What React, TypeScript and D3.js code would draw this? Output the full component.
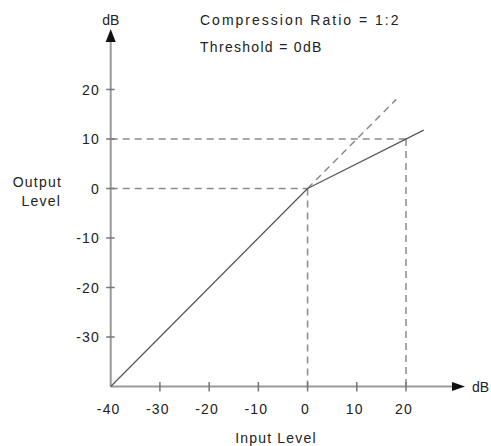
import React from "react";
import * as d3 from "d3";

const xTicks = [-40, -30, -20, -10, 0, 10, 20];
const yTicks = [20, 10, 0, -10, -20, -30];
const linearSegment = [[-40, -40], [0, 0]];
const compressedSegment = [[0, 0], [23.6, 11.8]];
const uncompressedDash = [[0, 0], [18, 18]];
const thresholdGuides = [
  [[-40, 0], [0, 0]],
  [[0, 0], [0, -40]],
  [[-40, 10], [20, 10]],
  [[20, 10], [20, -40]],
];
const titleLines = ["Compression Ratio = 1:2", "Threshold = 0dB"];

export default function App() {
  const W = 491, H = 446;
  const x = d3.scaleLinear().domain([-40, 20]).range([110.7, 406]);
  const y = d3.scaleLinear().domain([-40, 20]).range([386.5, 89.5]);
  const line = d3.line<number[]>().x(d => x(d[0])).y(d => y(d[1]));
  const font = "'Liberation Sans', Arial, sans-serif";
  const axisColor = "#999";
  const x0 = x(-40), y0 = y(-40);
  const fs = 14;
  const ls = 1.2;
  return (
    <svg width={W} height={H} style={{ position: "absolute", left: 0, top: 0, background: "#fff" }}
      fontFamily={font}>
      <rect width={W} height={H} fill="#fff" />
      {/* guides */}
      {thresholdGuides.map((g, i) => (
        <path key={i} d={line(g) || ""} stroke="#8a8a8a" strokeWidth={1.5} strokeDasharray="7,5" fill="none" />
      ))}
      <path d={line(uncompressedDash) || ""} stroke="#8a8a8a" strokeWidth={1.5} strokeDasharray="7,5" fill="none" />
      {/* axes */}
      <line x1={x0} y1={y0} x2={x0} y2={40} stroke={axisColor} strokeWidth={2} />
      <path d={`M${x0},29 L${x0 - 5},42 L${x0 + 5},42 Z`} fill="#111" />
      <line x1={x0} y1={y0} x2={455} y2={y0} stroke={axisColor} strokeWidth={2} />
      <path d={`M465,${y0} L452,${y0 - 4.5} L452,${y0 + 4.5} Z`} fill="#111" />
      {xTicks.map(t => (
        <g key={"x" + t}>
          {t !== -40 && <line x1={x(t)} x2={x(t)} y1={y0 - 4.5} y2={y0 + 5} stroke="#777" strokeWidth={1.5} />}
          <text x={x(t) - 2} y={y0 + 27} textAnchor="middle" fontSize={fs} letterSpacing={ls} fill="#222">{t}</text>
        </g>
      ))}
      {yTicks.map(t => (
        <g key={"y" + t}>
          <line x1={x0 - 4.5} x2={x0 + 4} y1={y(t)} y2={y(t)} stroke="#777" strokeWidth={1.5} />
          <text x={100} y={y(t) + 5} textAnchor="end" fontSize={fs} letterSpacing={ls} fill="#222">{t}</text>
        </g>
      ))}
      {/* transfer curve */}
      <path d={line(linearSegment) || ""} stroke="#555" strokeWidth={1.2} fill="none" />
      <path d={line(compressedSegment) || ""} stroke="#555" strokeWidth={1.2} fill="none" />
      {/* labels */}
      <text x={x0} y={25} textAnchor="middle" fontSize={fs} fill="#222">dB</text>
      <text x={472} y={y0 + 5} fontSize={fs} fill="#222">dB</text>
      <text x={200} y={25} fontSize={fs} letterSpacing={2} fill="#222">{titleLines[0]}</text>
      <text x={200} y={52} fontSize={fs} letterSpacing={1.3} fill="#222">{titleLines[1]}</text>
      <text x={62} y={187} textAnchor="end" fontSize={fs} letterSpacing={ls} fill="#222">Output</text>
      <text x={61} y={206} textAnchor="end" fontSize={fs} letterSpacing={ls} fill="#222">Level</text>
      <text x={276} y={443} textAnchor="middle" fontSize={fs} letterSpacing={ls} fill="#222">Input Level</text>
    </svg>
  );
}
